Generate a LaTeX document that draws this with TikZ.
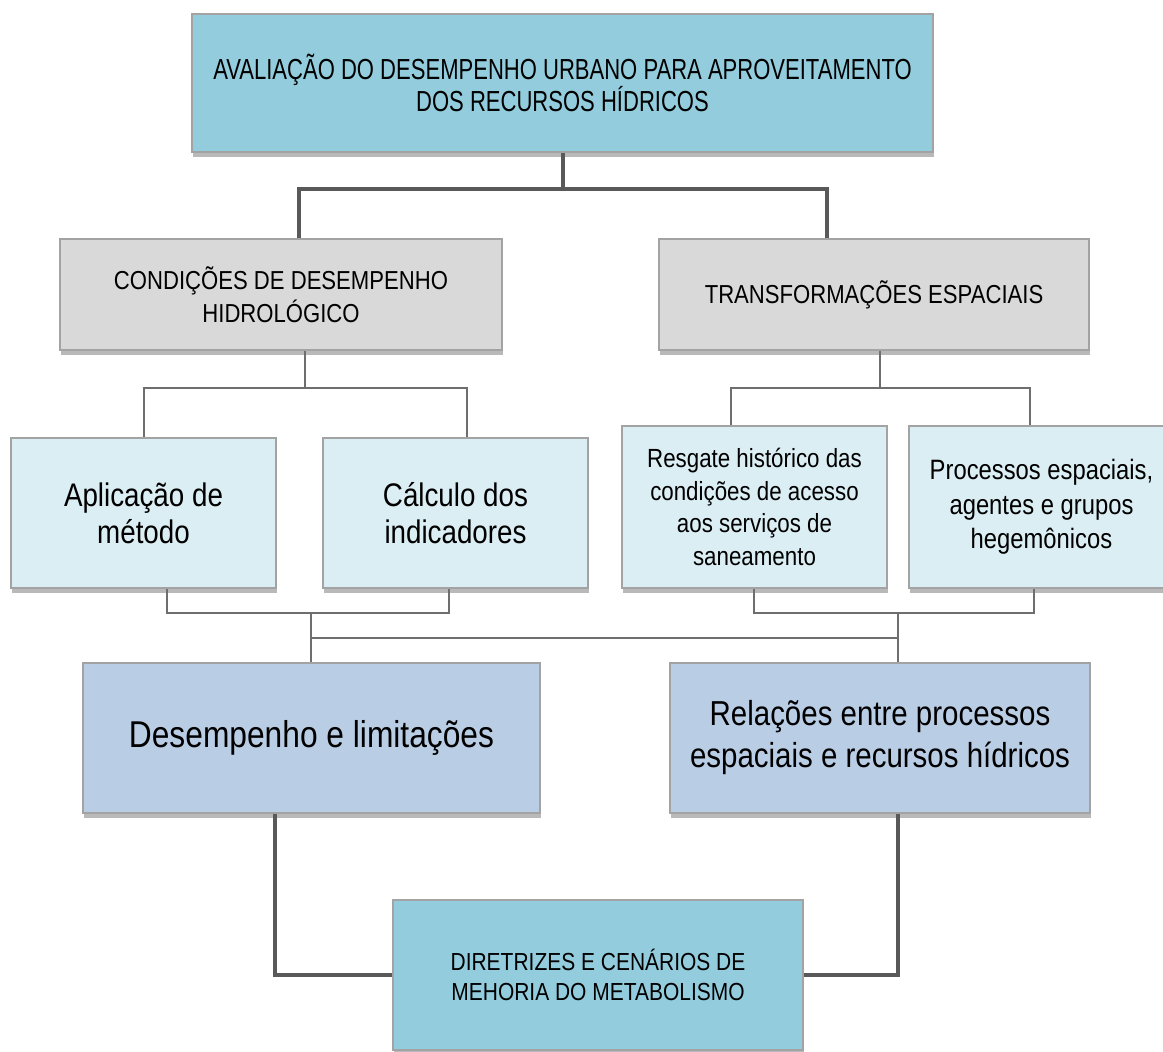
\documentclass[tikz,border=0pt]{standalone}
\usepackage{fontspec}
\setmainfont{Liberation Sans}[FakeStretch=0.85]
\newfontfamily\topfont{Liberation Sans}[FakeStretch=0.76]
\usetikzlibrary{shadows}

\definecolor{tealbox}{HTML}{93CDDD}
\definecolor{greybox}{HTML}{D9D9D9}
\definecolor{palebox}{HTML}{DBEEF4}
\definecolor{steelbox}{HTML}{B9CDE5}
\definecolor{framegrey}{HTML}{A3A3A3}
\definecolor{darkline}{HTML}{595959}
\definecolor{thinline}{HTML}{6E6E6E}

\begin{document}
\begin{tikzpicture}[x=0.75pt,y=-0.75pt,
	box/.style={draw=framegrey, line width=2pt, inner sep=0pt, align=center,
		drop shadow={shadow xshift=1pt, shadow yshift=-3.5pt, opacity=0.5, fill=black!55}},
	heavy/.style={draw=darkline, line width=3pt},
	light/.style={draw=thinline, line width=1pt}]
	\useasboundingbox (0,0) rectangle (1163,1052);

	\node[box, fill=tealbox, minimum width=555.75pt, minimum height=103.5pt,
		font=\topfont\fontsize{21.75pt}{22.5pt}\selectfont] (aval) at (562.5,83)
		{AVALIAÇÃO DO DESEMPENHO URBANO PARA APROVEITAMENTO\\DOS RECURSOS HÍDRICOS};

	\node[box, fill=greybox, minimum width=331.5pt, minimum height=83.25pt,
		font=\fontsize{19.5pt}{24.75pt}\selectfont] (cond) at (281,294.5)
		{CONDIÇÕES DE DESEMPENHO\\HIDROLÓGICO};
	\node[box, fill=greybox, minimum width=322.5pt, minimum height=83.25pt,
		font=\fontsize{19.5pt}{24.75pt}\selectfont] (transf) at (874,294.5)
		{TRANSFORMAÇÕES ESPACIAIS};

	\node[box, fill=palebox, minimum width=198.75pt, minimum height=112.5pt,
		font=\fontsize{24.5pt}{27.5pt}\selectfont] (apl) at (143.5,513)
		{Aplicação de\\método};
	\node[box, fill=palebox, minimum width=198.75pt, minimum height=112.5pt,
		font=\fontsize{24.5pt}{27.5pt}\selectfont] (calc) at (455.5,513)
		{Cálculo dos\\indicadores};
	\node[box, fill=palebox, minimum width=198.75pt, minimum height=121.5pt,
		font=\fontsize{19.7pt}{24.5pt}\selectfont] (resg) at (754.5,507)
		{Resgate histórico das\\condições de acesso\\aos serviços de\\saneamento};
	\node[box, fill=palebox, minimum width=198.75pt, minimum height=121.5pt,
		font=\fontsize{21pt}{26pt}\selectfont] (proc) at (1041.5,507)
		{Processos espaciais,\\agentes e grupos\\hegemônicos};

	\node[box, fill=steelbox, minimum width=342.75pt, minimum height=112.5pt,
		font=\fontsize{28pt}{32pt}\selectfont] (des) at (311.5,738)
		{Desempenho e limitações};
	\node[box, fill=steelbox, minimum width=315pt, minimum height=112.5pt,
		font=\fontsize{26pt}{31.5pt}\selectfont] (rel) at (880,738)
		{Relações entre processos\\espaciais e recursos hídricos};

	\node[box, fill=tealbox, minimum width=307.5pt, minimum height=112.5pt,
		font=\fontsize{18.5pt}{22.5pt}\selectfont] (dir) at (598,975)
		{DIRETRIZES E CENÁRIOS DE\\MEHORIA DO METABOLISMO};

	% top level
	\coordinate (t0) at (562.5,189);
	\coordinate (tl) at (299,189);
	\coordinate (tr) at (827,189);
	\draw[heavy] (aval.south) -- (t0);
	\draw[heavy] (tl |- cond.north) -- (tl) -- (tr) -- (tr |- transf.north);

	% second level
	\coordinate (c0) at (305,388);
	\coordinate (cl) at (144,388);
	\coordinate (cr) at (467,388);
	\draw[light] (c0 |- cond.south) -- (c0);
	\draw[light] (cl |- apl.north) -- (cl) -- (cr) -- (cr |- calc.north);
	\coordinate (s0) at (880,388);
	\coordinate (sl) at (731,388);
	\coordinate (sr) at (1030,388);
	\draw[light] (s0 |- transf.south) -- (s0);
	\draw[light] (sl |- resg.north) -- (sl) -- (sr) -- (sr |- proc.north);

	% joining the four boxes
	\coordinate (al) at (167,613);
	\coordinate (ar) at (449,613);
	\coordinate (am) at (311,613);
	\draw[light] (al |- apl.south) -- (al) -- (ar) -- (ar |- calc.south);
	\draw[light] (am) -- (am |- des.north);
	\coordinate (bl) at (754,613);
	\coordinate (br) at (1034,613);
	\coordinate (bm) at (898,613);
	\draw[light] (bl |- resg.south) -- (bl) -- (br) -- (br |- proc.south);
	\draw[light] (bm) -- (bm |- rel.north);
	\draw[light] (am |- 0,638) -- (bm |- 0,638);

	% bottom
	\coordinate (dl) at (275,975);
	\coordinate (dr) at (898,975);
	\draw[heavy] (dl |- des.south) -- (dl) -- (dir.west);
	\draw[heavy] (dr |- rel.south) -- (dr) -- (dir.east);
\end{tikzpicture}
\end{document}
